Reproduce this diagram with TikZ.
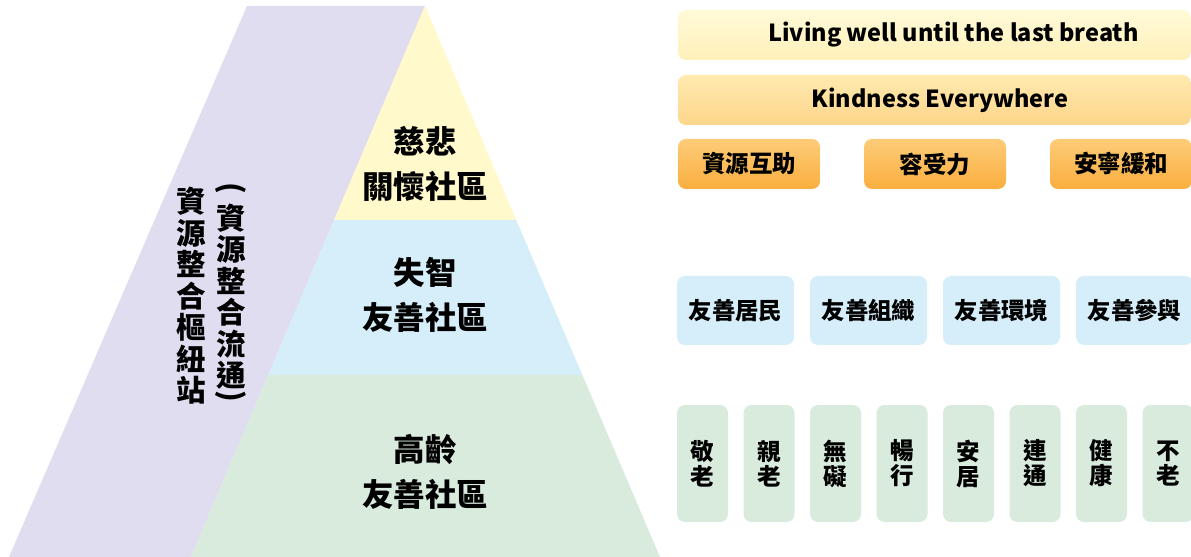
\documentclass[tikz,border=0pt]{standalone}
\usepackage{fontspec}
\setmainfont{Noto Sans CJK TC}
\usepackage{xcolor}
\usepackage{graphicx}
\usepackage{tikz}
\usetikzlibrary{calc}

\definecolor{hubpurple}{RGB}{223,221,239}
\definecolor{careyellow}{RGB}{255,249,204}
\definecolor{dementiablue}{RGB}{214,238,249}
\definecolor{agegreen}{RGB}{216,235,221}
\definecolor{liveTop}{RGB}{255,250,216}
\definecolor{liveBot}{RGB}{255,240,186}
\definecolor{kindTop}{RGB}{255,233,176}
\definecolor{kindBot}{RGB}{253,214,138}
\definecolor{valTop}{RGB}{253,204,120}
\definecolor{valBot}{RGB}{250,174,62}

\newcommand{\pxu}{0.025cm}

\tikzset{
    pill/.style={rounded corners=0.2cm, inner sep=0pt, align=center,
        font=\bfseries\fontsize{16.7}{17.8}\selectfont},
    tier/.style={align=center, font=\bfseries\fontsize{22.4}{32}\selectfont},
    column/.style={align=center, inner sep=0pt, font=\bfseries\fontsize{21}{22.4}\selectfont}
}

\begin{document}
\begin{tikzpicture}[x=0.025cm, y=-0.025cm]
        \useasboundingbox (0,0) rectangle (1191,557);
        \coordinate (apex) at (425,6);
        \coordinate (bl) at (191,557);
        \coordinate (br) at (660,557);
        \coordinate (l1) at ($(apex)!0.3884!(bl)$);
        \coordinate (r1) at ($(apex)!0.3884!(br)$);
        \coordinate (l2) at ($(apex)!0.6697!(bl)$);
        \coordinate (r2) at ($(apex)!0.6697!(br)$);

        % pyramid
        \fill[hubpurple] (247,6) -- (apex) -- (bl) -- (9,557) -- cycle;
        \fill[careyellow] (apex) -- (r1) -- (l1) -- cycle;
        \fill[dementiablue] (l1) -- (r1) -- (r2) -- (l2) -- cycle;
        \fill[agegreen] (l2) -- (r2) -- (br) -- (bl) -- cycle;

        \node[tier] (care) at (425,164) {慈悲\\關懷社區};
        \node[tier] (dementia) at (425,295) {失智\\友善社區};
        \node[tier] (aged) at (425,472) {高齡\\友善社區};

        \node[column] (hub) at (191,296) {資\\源\\整\\合\\樞\\紐\\站};
        \node[column] (flow) at (231,294) {\rotatebox[origin=c]{-90}{(}\\資\\源\\整\\合\\流\\通\\[-9pt]\rotatebox[origin=c]{-90}{)}};

        % goals
        \node[pill, top color=liveTop, bottom color=liveBot, minimum width=513*\pxu, minimum height=50*\pxu] (live) at (934.5,35) {\hspace*{27pt}Living well until the last breath};
        \node[pill, top color=kindTop, bottom color=kindBot, minimum width=513*\pxu, minimum height=50*\pxu] (kind) at (934.5,100) {\hspace*{8pt}Kindness Everywhere};
        \foreach \i\j in {0/資源互助, 1/容受力, 2/安寧緩和}{
            \node[pill, top color=valTop, bottom color=valBot, minimum width=142*\pxu, minimum height=50*\pxu] (v\i) at (749+186*\i, 164) {\j};
        }

        \foreach \i\j in {0/友善居民, 1/友善組織, 2/友善環境, 3/友善參與}{
            \node[pill, fill=dementiablue, minimum width=117*\pxu, minimum height=69*\pxu] (d\i) at (735.5+133*\i, 310.5) {\j};
        }

        \foreach \i\j\k in {0/敬/老, 1/親/老, 2/無/礙, 3/暢/行, 4/安/居, 5/連/通, 6/健/康, 7/不/老}{
            \node[pill, fill=agegreen, minimum width=51*\pxu, minimum height=117*\pxu] (a\i) at (702.5+66.5*\i, 463.5) {\j\\\k};
        }
    \end{tikzpicture}
\end{document}
